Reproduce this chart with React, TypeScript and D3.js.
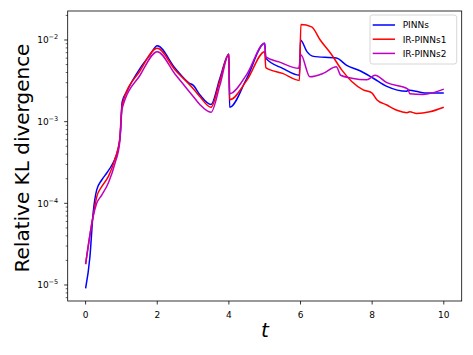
import React from 'react';
import * as d3 from 'd3';

// time samples + values (log axis)
const tPINNs = [0, 0.12, 0.21, 0.31, 0.45, 0.59, 0.76, 0.9, 0.97, 1.02, 1.15, 1.52, 1.8, 2.0, 2.5, 2.9, 3.0, 3.2, 3.5, 3.75, 4.0, 4.02, 4.5, 5.0, 5.03, 5.5, 5.97, 6.0, 6.18, 6.36, 7.0, 7.29, 7.66, 8.03, 8.41, 8.97, 9.0, 9.52, 10];
const kPINNs = [9.1e-6, 2.2e-5, 7.6e-5, 1.46e-4, 1.93e-4, 2.35e-4, 3.1e-4, 4.5e-4, 7e-4, 1.75e-3, 2.35e-3, 4.5e-3, 6.6e-3, 8.5e-3, 4.5e-3, 2.95e-3, 2.8e-3, 2.1e-3, 1.62e-3, 3.4e-3, 6.7e-3, 1.5e-3, 3.4e-3, 9.1e-3, 6.0e-3, 4.5e-3, 3.7e-3, 1.0e-2, 7.2e-3, 6.3e-3, 6.0e-3, 4.9e-3, 4.2e-3, 3.4e-3, 2.7e-3, 2.35e-3, 2.45e-3, 2.24e-3, 2.24e-3];

const tIR1 = [0, 0.21, 0.31, 0.45, 0.64, 0.82, 0.95, 1.02, 1.52, 2.0, 2.5, 3.0, 3.2, 3.5, 3.75, 4.0, 4.02, 4.5, 5.0, 5.03, 5.5, 5.97, 6.01, 6.31, 6.55, 6.87, 7.15, 7.43, 7.75, 7.99, 8.13, 8.41, 8.69, 8.97, 9.05, 9.24, 9.61, 10];
const kIR1 = [1.8e-5, 7e-5, 1.2e-4, 1.6e-4, 2.15e-4, 3.5e-4, 6e-4, 1.6e-3, 4.2e-3, 7.9e-3, 4.3e-3, 2.55e-3, 2.0e-3, 1.5e-3, 3.2e-3, 6.7e-3, 1.85e-3, 3.2e-3, 7.2e-3, 4.6e-3, 3.9e-3, 3.2e-3, 1.55e-2, 1.45e-2, 1.0e-2, 6.6e-3, 4.3e-3, 3.1e-3, 2.45e-3, 2.25e-3, 1.86e-3, 1.6e-3, 1.38e-3, 1.29e-3, 1.32e-3, 1.26e-3, 1.32e-3, 1.5e-3];

const tIR2 = [0, 0.21, 0.31, 0.45, 0.64, 0.82, 0.95, 1.02, 1.52, 2.0, 2.5, 3.0, 3.2, 3.5, 3.75, 4.0, 4.02, 4.5, 5.0, 5.03, 5.4, 5.95, 6.01, 6.26, 6.63, 7.0, 7.12, 7.43, 7.85, 8.08, 8.41, 9.0, 9.05, 9.42, 10];
const kIR2 = [1.8e-5, 6.9e-5, 1.0e-4, 1.26e-4, 1.8e-4, 3.1e-4, 5.5e-4, 1.45e-3, 3.7e-3, 7.2e-3, 3.8e-3, 2.05e-3, 1.6e-3, 1.3e-3, 2.8e-3, 6.7e-3, 2.2e-3, 3.8e-3, 9.1e-3, 6.2e-3, 5.4e-3, 4.5e-3, 6.6e-3, 3.55e-3, 3.9e-3, 4.7e-3, 3.7e-3, 3.4e-3, 3.25e-3, 3.7e-3, 3.0e-3, 2.5e-3, 2.2e-3, 2.15e-3, 2.5e-3];

const seriesNames = ['PINNs', 'IR-PINNs1', 'IR-PINNs2'];
const seriesColors = ['#0000ff', '#ff0000', '#bf00bf'];

const xTicks = [0, 2, 4, 6, 8, 10];
const yExponents = [-5, -4, -3, -2];

const W = 473;
const H = 355;
const margin = { top: 11, right: 11.3, bottom: 54, left: 67.7 };
const font = 'DejaVu Sans, sans-serif';

const App = () => {
  const innerW = W - margin.left - margin.right;
  const innerH = H - margin.top - margin.bottom;

  const x = d3.scaleLinear().domain([-0.5, 10.5]).range([0, innerW]);
  const y = d3.scaleLog().domain([Math.pow(10, -5.196), Math.pow(10, -1.645)]).range([innerH, 0]);

  const line = d3.line<[number, number]>()
    .x(d => x(d[0]))
    .y(d => y(d[1]))
    .curve(d3.curveMonotoneX);

  const series = [
    d3.zip(tPINNs, kPINNs) as [number, number][],
    d3.zip(tIR1, kIR1) as [number, number][],
    d3.zip(tIR2, kIR2) as [number, number][],
  ];

  // minor ticks for the log axis
  const [lo, hi] = y.domain();
  const minor: number[] = [];
  for (let e = -6; e <= -1; e++) {
    for (let m = 2; m <= 9; m++) {
      const v = m * Math.pow(10, e);
      if (v >= lo && v <= hi) minor.push(v);
    }
  }

  return (
    <div style={{ position: 'absolute', left: 0, top: 0 }}>
      <svg width={W} height={H} style={{ fontFamily: font, display: 'block' }}>
        <rect width={W} height={H} fill="#fff" />
        <g transform={`translate(${margin.left},${margin.top})`}>
          <defs>
            <clipPath id="plot">
              <rect width={innerW} height={innerH} />
            </clipPath>
          </defs>

          {/* lines */}
          <g clipPath="url(#plot)">
            {series.map((s, i) => (
              <path key={seriesNames[i]} d={line(s) || ''} fill="none"
                stroke={seriesColors[i]} strokeWidth={1.5} strokeLinejoin="round" />
            ))}
          </g>

          {/* frame */}
          <rect width={innerW} height={innerH} fill="none" stroke="#000" strokeWidth={0.8} />

          {/* x axis */}
          {xTicks.map(t => (
            <g key={t} transform={`translate(${x(t)},${innerH})`}>
              <line y2={3.5} stroke="#000" strokeWidth={0.8} />
              <text y={17} textAnchor="middle" fontSize={9}>{t}</text>
            </g>
          ))}

          {/* y axis */}
          {minor.map(v => (
            <line key={v} x1={-2} x2={0} y1={y(v)} y2={y(v)} stroke="#000" strokeWidth={0.6} />
          ))}
          {yExponents.map(e => (
            <g key={e} transform={`translate(0,${y(Math.pow(10, e))})`}>
              <line x1={-3.5} stroke="#000" strokeWidth={0.8} />
              <text x={-9.5} y={3.3} textAnchor="end" fontSize={9}>
                10<tspan fontSize={6.5} dy={-4}>{'\u2212' + Math.abs(e)}</tspan>
              </text>
            </g>
          ))}

          {/* legend */}
          <g transform={`translate(${innerW - 91.7},${4})`}>
            <rect width={86.7} height={49} rx={2.5} fill="#fff" fillOpacity={0.8} stroke="#cccccc" strokeWidth={0.8} />
            {seriesNames.map((n, i) => (
              <g key={n} transform={`translate(0,${10 + i * 14.2})`}>
                <line x1={2.7} x2={25} stroke={seriesColors[i]} strokeWidth={1.5} />
                <text x={32.7} y={3.3} fontSize={9}>{n}</text>
              </g>
            ))}
          </g>
        </g>

        {/* axis labels */}
        <text x={265} y={337} textAnchor="middle" fontSize={20} fontStyle="italic">t</text>
        <text transform={`translate(28.5,${margin.top + innerH / 2 + 2}) rotate(-90)`}
          textAnchor="middle" fontSize={20}>Relative KL divergence</text>
      </svg>
    </div>
  );
};

export default App;
